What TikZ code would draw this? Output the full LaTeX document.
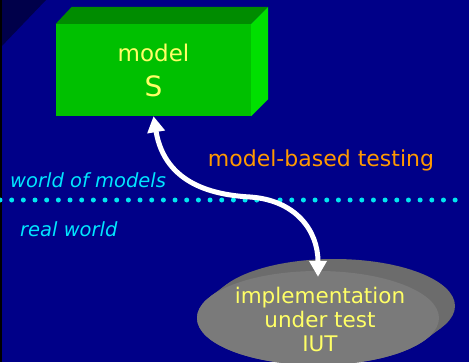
\documentclass[tikz,border=0pt]{standalone}
\usepackage{fontspec}
\setmainfont{DejaVu Sans}
\usetikzlibrary{shapes.geometric,arrows.meta,calc}

\definecolor{navy}{RGB}{0,0,136}
\definecolor{navydark}{RGB}{0,0,74}
\definecolor{boxfront}{RGB}{0,192,0}
\definecolor{boxtop}{RGB}{0,140,0}
\definecolor{boxside}{RGB}{0,224,0}
\definecolor{labelyellow}{RGB}{255,255,102}
\definecolor{labelorange}{RGB}{255,153,0}
\definecolor{labelcyan}{RGB}{0,230,255}
\definecolor{dotcyan}{RGB}{0,230,240}
\definecolor{diskface}{RGB}{122,122,122}
\definecolor{diskrim}{RGB}{108,108,108}

\tikzset{
  modelbox/.style={rectangle, fill=boxfront, draw=none, minimum width=195pt,
    minimum height=92pt, inner sep=0pt, align=center,
    text=labelyellow, font=\fontsize{23}{35}\selectfont},
  worldlabel/.style={text=labelcyan, font=\itshape\fontsize{19.5}{22}\selectfont,
    inner sep=0pt, anchor=west},
  disklabel/.style={text=labelyellow, align=center,
    font=\fontsize{21.5}{24}\selectfont, inner sep=0pt},
  biarrow/.style={draw=white, line width=5pt,
    {Triangle[length=16pt,width=17pt]}-{Triangle[length=16pt,width=17pt]}},
  dotmark/.style={circle, fill=dotcyan, minimum size=5pt, inner sep=0pt}
}

\begin{document}
\begin{tikzpicture}[x=1pt,y=-1pt]
  % background with a darker top-left corner
  \fill[navy] (0,0) rectangle (469,362);
  \useasboundingbox (0,0) rectangle (469,362);
  \fill[navydark] (0,0) -- (46,0) -- (0,48) -- cycle;
  \fill[black] (0,0) rectangle (2,362);

  % boundary between the two worlds
  \foreach \i in {0,...,39} {
    \node[dotmark] (dot\i) at ({11.67*\i},200) {};
  }
  \node[worldlabel] (wom) at (10,180) {world of models};
  \node[worldlabel] (rw) at (20,229) {real world};

  % the model: a green block
  \node[modelbox] (model) at (153.5,70) {model\\{\fontsize{28}{30}\selectfont S}};
  \fill[boxtop] (model.north west) -- ($(model.north west)+(16,-17)$)
     -- ($(model.north east)+(17,-17)$) -- (model.north east) -- cycle;
  \fill[boxside] (model.north east) -- ($(model.north east)+(17,-17)$)
     -- ($(model.south east)+(17,-17)$) -- (model.south east) -- cycle;

  % the implementation: a grey disk with its rim seen at the back
  \node[ellipse, fill=diskface, minimum width=242pt, minimum height=94pt,
        inner sep=0pt] (iut) at (318,318) {};
  \fill[diskrim] ($(iut.center)+(16,-12)$) ellipse [x radius=121, y radius=47];
  \fill[diskrim] ($(iut.center)+(-107.4,-21.6)$) -- ($(iut.center)+(-91.4,-33.6)$)
     -- ($(iut.center)+(123.4,9.6)$) -- ($(iut.center)+(107.4,21.6)$) -- cycle;
  \fill[diskface] (iut.center) ellipse [x radius=121, y radius=47];
  \node[disklabel] (iutlabel) at (320,319) {implementation\\under test\\IUT};

  % the relation between model and implementation
  \node[text=labelorange, font=\fontsize{22}{24}\selectfont, inner sep=0pt]
     (mbt) at (321,160) {model-based testing};
  \draw[biarrow] (model.south) .. controls (165,185) and (215,195) .. (250,197)
     .. controls (295,200) and (318,230) .. ($(iut.north)+(0,6)$);
\end{tikzpicture}
\end{document}
